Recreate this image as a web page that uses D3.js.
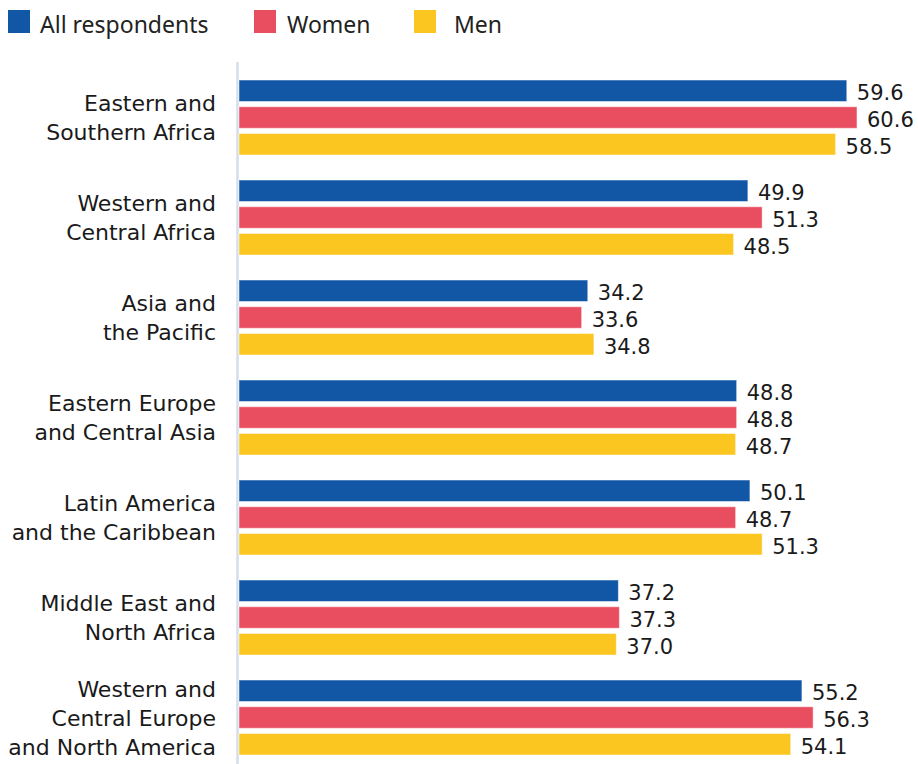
<!DOCTYPE html>
<html><head><meta charset="utf-8">
<script src="https://cdn.jsdelivr.net/npm/d3@7"></script>
<style>body{margin:0;background:#fff}svg{display:block}</style>
</head><body>
<svg id="c" width="918" height="764"></svg>
<script>
const categories = [
  ["Eastern and","Southern Africa"],
  ["Western and","Central Africa"],
  ["Asia and","the Pacific"],
  ["Eastern Europe","and Central Asia"],
  ["Latin America","and the Caribbean"],
  ["Middle East and","North Africa"],
  ["Western and","Central Europe","and North America"]
];
const seriesNames = ["All respondents","Women","Men"];
const allRespondents = [59.6,49.9,34.2,48.8,50.1,37.2,55.2];
const women = [60.6,51.3,33.6,48.8,48.7,37.3,56.3];
const men = [58.5,48.5,34.8,48.7,51.3,37.0,54.1];
const colors = ["#1256a6","#e94d60","#fbc61f"];

const series = [allRespondents, women, men];
const svg = d3.select("#c");
const labelFont = "'DejaVu Sans', sans-serif";
const legendFont = "'Noto Sans', sans-serif";

const x = d3.scaleLinear().domain([0,60.6]).range([239, 857]);
const y0 = d3.scaleBand().domain(d3.range(categories.length)).range([80, 780]).paddingInner(0).paddingOuter(0);
const y1 = d3.scaleBand().domain(d3.range(3)).range([0, 75]).paddingInner(0.196).paddingOuter(0);

// axis line
svg.append("line").attr("x1",237.5).attr("x2",237.5).attr("y1",62).attr("y2",764)
  .attr("stroke","#d3dfea").attr("stroke-width",2.5);

const g = svg.selectAll("g.grp").data(categories).join("g").attr("class","grp")
  .attr("transform",(d,i)=>`translate(0,${y0(i)})`);

g.each(function(cat, i){
  const gg = d3.select(this);
  series.forEach((s, k) => {
    gg.append("rect").attr("x", x(0)).attr("y", y1(k))
      .attr("width", x(s[i]) - x(0)).attr("height", y1.bandwidth())
      .attr("fill", colors[k]).attr("stroke","rgba(255,255,255,0.5)").attr("stroke-width",1);
    gg.append("text").attr("x", x(s[i]) + 10).attr("y", y1(k) + y1.bandwidth()/2 + 9.5)
      .attr("font-family",labelFont).attr("font-size",21).attr("fill","#1a1a1a")
      .text(s[i].toFixed(1));
  });
  const center = 37.5;
  const n = cat.length, lh = 29;
  const t = gg.append("text").attr("text-anchor","end").attr("font-family",labelFont)
    .attr("font-size",22).attr("fill","#1a1a1a");
  cat.forEach((line, j) => {
    t.append("tspan").attr("x",216).attr("y", center + 8 + (j - (n-1)/2)*lh).text(line);
  });
});

// legend
const legendX = [8, 254, 414];
const legendTextX = [40, 287, 454];
seriesNames.forEach((name,k) => {
  svg.append("rect").attr("x",legendX[k]).attr("y",10).attr("width",22).attr("height",23).attr("fill",colors[k]);
  svg.append("text").attr("x",legendTextX[k]).attr("y",33).attr("font-family",legendFont)
    .attr("font-size",23).attr("fill","#222").text(name);
});
</script>
</body></html>
